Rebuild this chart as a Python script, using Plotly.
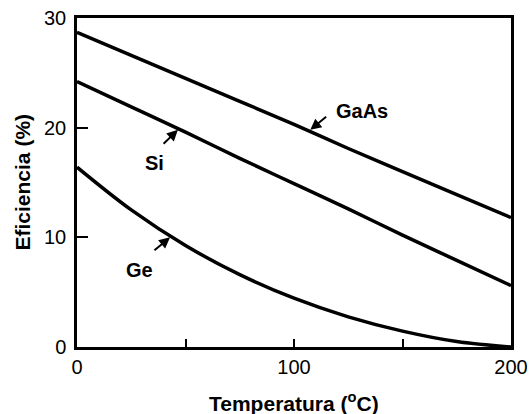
import plotly.graph_objects as go

# Data
temp = [0, 25, 50, 75, 100, 125, 150, 175, 200]
gaas = [28.7, 26.6, 24.5, 22.4, 20.3, 18.1, 16.0, 13.9, 11.8]
si = [24.2, 21.9, 19.6, 17.2, 14.9, 12.6, 10.2, 7.9, 5.6]
ge = [16.4, 12.5, 9.25, 6.6, 4.45, 2.75, 1.45, 0.5, 0.0]

x_tickvals = [0, 50, 100, 150, 200]
x_ticktext = ["0", "", "100", "", "200"]
y_tickvals = [0, 10, 20, 30]
y_ticktext = ["0", "10", "20", "30"]

labels = ["GaAs", "Si", "Ge"]
label_x = [131.3, 35.5, 28.6]
label_y = [21.5, 16.8, 7.0]
arrow_tail_x = [115.5, 39.2, 35.0]
arrow_tail_y = [21.1, 18.4, 8.7]
arrow_head_x = [107.5, 46.5, 42.9]
arrow_head_y = [19.8, 19.8, 10.0]

FONT = "Liberation Sans, Arial, sans-serif"

fig = go.Figure()
for ys in (gaas, si, ge):
    fig.add_trace(go.Scatter(x=temp, y=ys, mode="lines",
                             line=dict(color="black", width=3.5, shape="spline"),
                             showlegend=False, hoverinfo="skip"))

annotations = []
for t, lx, ly in zip(labels, label_x, label_y):
    annotations.append(dict(x=lx, y=ly, xref="x", yref="y", text="<b>%s</b>" % t,
                            showarrow=False, font=dict(family=FONT, size=20, color="black")))
for tx, ty, hx, hy in zip(arrow_tail_x, arrow_tail_y, arrow_head_x, arrow_head_y):
    annotations.append(dict(x=hx, y=hy, ax=tx, ay=ty, xref="x", yref="y",
                            axref="x", ayref="y", text="", showarrow=True,
                            arrowhead=2, arrowsize=1.1, arrowwidth=2, arrowcolor="black"))
annotations.append(dict(x=0.5, y=0, xref="paper", yref="paper", yanchor="middle",
                        yshift=-55, text="<b>Temperatura (<sup>o</sup>C)</b>",
                        showarrow=False, font=dict(family=FONT, size=21, color="black")))
annotations.append(dict(x=0, y=0.5, xref="paper", yref="paper", xanchor="center",
                        xshift=-55, textangle=-90, text="<b>Eficiencia (%)</b>",
                        showarrow=False, font=dict(family=FONT, size=21, color="black")))

fig.update_layout(
    width=530, height=414,
    margin=dict(l=77, r=19, t=18, b=67),
    paper_bgcolor="white", plot_bgcolor="white",
    annotations=annotations,
    font=dict(family=FONT, color="black"),
)
fig.update_xaxes(range=[0, 200], tickvals=x_tickvals, ticktext=x_ticktext,
                 ticks="inside", ticklen=8, tickwidth=2, tickcolor="black",
                 showline=True, linecolor="black", linewidth=2.5, mirror=True,
                 showgrid=False, zeroline=False, automargin=False,
                 ticklabeloverflow="allow",
                 tickfont=dict(family=FONT, size=20, color="black"))
fig.update_yaxes(range=[0, 30], tickvals=y_tickvals, ticktext=y_ticktext,
                 ticks="inside", ticklen=11, tickwidth=2, tickcolor="black",
                 showline=True, linecolor="black", linewidth=2.5, mirror=True,
                 showgrid=False, zeroline=False, automargin=False,
                 ticklabelstandoff=4, ticklabeloverflow="allow",
                 tickfont=dict(family=FONT, size=20, color="black"))

# remove the browser's default 8px body margin so the figure fills the window
fig.write_html("out.html", config={"displayModeBar": False},
               post_script="document.body.style.margin='0';document.body.style.overflow='hidden';")
